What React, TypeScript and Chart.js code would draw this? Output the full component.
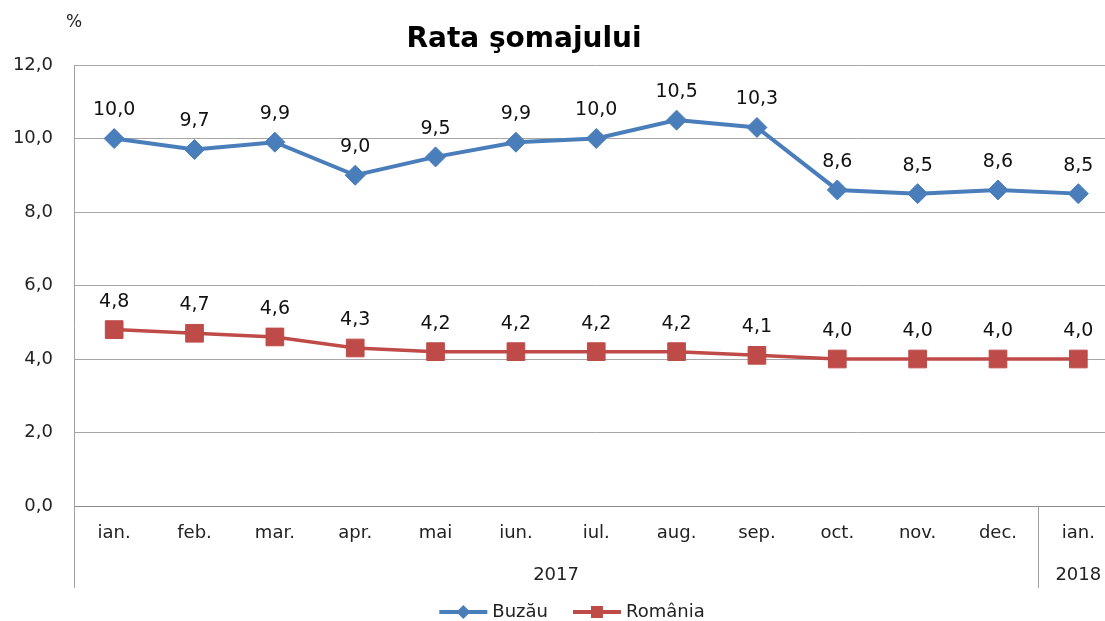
import React, { useEffect, useRef } from "react";
import { Chart, registerables } from "chart.js";

Chart.register(...registerables);

const categories = ["ian.", "feb.", "mar.", "apr.", "mai", "iun.", "iul.", "aug.", "sep.", "oct.", "nov.", "dec.", "ian."];
const yearGroups = [
  { label: "2017", from: 0, to: 11 },
  { label: "2018", from: 12, to: 12 },
];
const buzau = [10.0, 9.7, 9.9, 9.0, 9.5, 9.9, 10.0, 10.5, 10.3, 8.6, 8.5, 8.6, 8.5];
const romania = [4.8, 4.7, 4.6, 4.3, 4.2, 4.2, 4.2, 4.2, 4.1, 4.0, 4.0, 4.0, 4.0];
const seriesNames = ["Buzău", "România"];
const titleText = "Rata şomajului";
const unitText = "%";
const yMin = 0;
const yMax = 12;
const yStep = 2;

const BLUE = "#4a7ebb";
const RED = "#be4b48";
const FONT = "'DejaVu Sans', sans-serif";
const fmt = (v: number) => v.toFixed(1).replace(".", ",");

function drawMarker(ctx: CanvasRenderingContext2D, style: string, x: number, y: number, r: number, color: string) {
  ctx.save();
  ctx.fillStyle = color;
  ctx.beginPath();
  if (style === "rectRot") {
    ctx.moveTo(x, y - r);
    ctx.lineTo(x + r, y);
    ctx.lineTo(x, y + r);
    ctx.lineTo(x - r, y);
    ctx.closePath();
  } else {
    ctx.rect(x - r, y - r, 2 * r, 2 * r);
  }
  ctx.fill();
  ctx.restore();
}

const decorPlugin = {
  id: "decor",
  afterDraw(chart: any) {
    const ctx: CanvasRenderingContext2D = chart.ctx;
    const area = chart.chartArea;
    const xs = chart.scales.x;
    const step = xs.getPixelForValue(1) - xs.getPixelForValue(0);
    const lowerBottom = 588;

    ctx.save();
    // title
    ctx.fillStyle = "#000";
    ctx.font = `bold 28px ${FONT}`;
    ctx.textAlign = "center";
    ctx.textBaseline = "middle";
    ctx.fillText(titleText, 524, 40);

    // unit
    ctx.font = `17px ${FONT}`;
    ctx.fillStyle = "#222";
    ctx.fillText(unitText, 74, 23);

    // left axis line (extended) and group separators
    ctx.strokeStyle = "#a0a0a0";
    ctx.lineWidth = 1;
    ctx.beginPath();
    ctx.moveTo(Math.round(area.left) + 0.5, area.top);
    ctx.lineTo(Math.round(area.left) + 0.5, lowerBottom);
    for (let g = 1; g < yearGroups.length; g++) {
      const sx = Math.round(xs.getPixelForValue(yearGroups[g].from) - step / 2) + 0.5;
      ctx.moveTo(sx, area.bottom);
      ctx.lineTo(sx, lowerBottom);
    }
    ctx.stroke();

    // year labels
    ctx.font = `18px ${FONT}`;
    ctx.fillStyle = "#222";
    yearGroups.forEach((g) => {
      const x1 = xs.getPixelForValue(g.from) - step / 2;
      const x2 = xs.getPixelForValue(g.to) + step / 2;
      ctx.fillText(g.label, (x1 + x2) / 2, 575);
    });

    // data labels
    ctx.font = `19px ${FONT}`;
    ctx.fillStyle = "#111";
    chart.data.datasets.forEach((ds: any, i: number) => {
      const meta = chart.getDatasetMeta(i);
      meta.data.forEach((pt: any, j: number) => {
        ctx.fillText(fmt(ds.data[j]), pt.x, pt.y - 28);
      });
    });

    // legend
    const legendY = 612;
    ctx.font = `18px ${FONT}`;
    const lineLen = 48;
    const gapText = 5;
    const gapItem = 25;
    const widths = chart.data.datasets.map((ds: any) => lineLen + gapText + ctx.measureText(ds.label).width);
    const total = widths.reduce((a: number, b: number) => a + b, 0) + gapItem * (widths.length - 1);
    let lx = 572 - total / 2;
    ctx.textAlign = "left";
    chart.data.datasets.forEach((ds: any, i: number) => {
      ctx.strokeStyle = ds.borderColor;
      ctx.lineWidth = 4;
      ctx.beginPath();
      ctx.moveTo(lx, legendY);
      ctx.lineTo(lx + lineLen, legendY);
      ctx.stroke();
      drawMarker(ctx, ds.pointStyle, lx + lineLen / 2, legendY, ds.pointStyle === "rectRot" ? 7 : 6, ds.borderColor);
      ctx.fillStyle = "#222";
      ctx.fillText(ds.label, lx + lineLen + gapText, legendY);
      lx += widths[i] + gapItem;
    });
    ctx.restore();
  },
};

export default function App() {
  const ref = useRef<HTMLCanvasElement | null>(null);

  useEffect(() => {
    if (!ref.current) return;
    const chart = new Chart(ref.current, {
      type: "line",
      data: {
        labels: categories,
        datasets: [
          {
            label: seriesNames[0],
            data: buzau,
            borderColor: BLUE,
            backgroundColor: BLUE,
            borderWidth: 4,
            pointStyle: "rectRot",
            pointRadius: 10,
            pointBorderWidth: 1,
            pointBackgroundColor: BLUE,
            pointBorderColor: BLUE,
            tension: 0,
          },
          {
            label: seriesNames[1],
            data: romania,
            borderColor: RED,
            backgroundColor: RED,
            borderWidth: 3.5,
            pointStyle: "rect",
            pointRadius: 12.5,
            pointBorderWidth: 1,
            pointBackgroundColor: RED,
            pointBorderColor: RED,
            tension: 0,
          },
        ],
      },
      options: {
        animation: false,
        responsive: false,
        devicePixelRatio: 1,
        layout: { padding: { left: 0, top: 65, right: 0, bottom: 0 } },
        plugins: {
          legend: { display: false },
          title: { display: false },
          tooltip: { enabled: false },
        },
        scales: {
          x: {
            type: "category",
            offset: true,
            grid: { display: false, drawTicks: false, offset: true },
            border: { display: true, color: "#8c8c8c", width: 1 },
            ticks: {
              autoSkip: false,
              maxRotation: 0,
              padding: 17,
              color: "#222",
              font: { family: "DejaVu Sans", size: 18 },
            },
            afterFit: (scale: any) => {
              scale.height = 115;
            },
          },
          y: {
            min: yMin,
            max: yMax,
            grid: { color: "#a6a6a6", drawTicks: false, lineWidth: 1 },
            border: { display: false },
            ticks: {
              stepSize: yStep,
              padding: 21,
              color: "#222",
              font: { family: "DejaVu Sans", size: 18 },
              callback: (v: any) => fmt(Number(v)),
            },
            afterFit: (scale: any) => {
              scale.width = 74;
            },
          },
        },
      },
      plugins: [decorPlugin],
    });
    return () => chart.destroy();
  }, []);

  return (
    <div style={{ position: "fixed", left: 0, top: 0, width: 1105, height: 621, overflow: "hidden", background: "#fff" }}>
      <canvas ref={ref} width={1132} height={621} style={{ display: "block" }} />
    </div>
  );
}
